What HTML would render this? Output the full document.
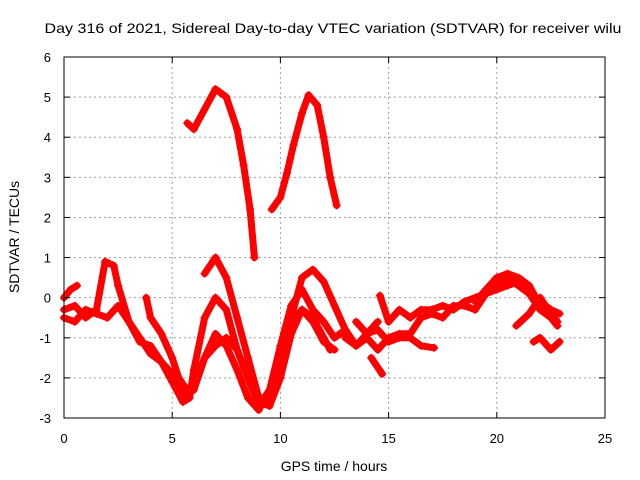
<!DOCTYPE html>
<html><head><meta charset="utf-8"><style>
html,body{margin:0;padding:0;background:#fff}
svg{display:block;font-family:"Liberation Sans",sans-serif}
</style></head><body>
<svg id="chart" width="640" height="480" viewBox="0 0 640 480" xmlns="http://www.w3.org/2000/svg">
<rect width="640" height="480" fill="#fff"/>
<text x="333" y="33" font-size="14" text-anchor="middle" textLength="577" lengthAdjust="spacingAndGlyphs">Day 316 of 2021, Sidereal Day-to-day VTEC variation (SDTVAR) for receiver wilu</text>
<g id="grid"></g>
<g id="series"></g>
<rect x="64" y="57" width="541" height="361" fill="none" stroke="#000" stroke-width="1"/>
<g id="ticks"></g>
<text x="334" y="471" font-size="14" text-anchor="middle">GPS time / hours</text>
<text transform="translate(19,237) rotate(-90)" font-size="14" text-anchor="middle">SDTVAR / TECUs</text>
</svg>
<script>
const xTicks=[0,5,10,15,20,25];
const yTicks=[-3,-2,-1,0,1,2,3,4,5,6];
const arcA=[[5.7,4.35],[6.0,4.2],[6.5,4.7],[7.0,5.2],[7.5,5.0],[8.0,4.2],[8.3,3.3],[8.6,2.2],[8.8,1.0]];
const arcB=[[9.6,2.2],[10.0,2.5],[10.3,3.1],[10.6,3.8],[11.0,4.6],[11.3,5.05],[11.7,4.8],[12.0,4.0],[12.3,3.0],[12.6,2.3]];
const s1=[[6.5,0.6],[7.0,1.0],[7.5,0.5],[8.0,-0.5],[8.5,-1.5],[9.0,-2.5],[9.5,-2.5],[10.0,-1.8],[10.5,-0.5],[11.0,0.5],[11.5,0.7],[12.0,0.4],[12.5,-0.2],[13.0,-0.8],[13.5,-1.2],[14.0,-0.9],[14.5,-0.6]];
const s2=[[0,-0.3],[0.5,-0.2],[1.0,-0.5],[1.5,-0.3],[1.9,0.9],[2.3,0.8],[2.5,0.3],[3.0,-0.6],[3.5,-1.0],[4.0,-1.4],[4.5,-1.6],[5.0,-1.9],[5.5,-2.4],[6.0,-2.3],[6.5,-1.5],[7.0,-0.9],[7.5,-1.2],[8.0,-1.8],[8.5,-2.5],[9.0,-2.8],[9.5,-2.3],[10.0,-1.2],[10.5,-0.2],[11.0,0.2],[11.5,-0.3],[12.0,-0.6],[12.5,-1.0],[13.0,-0.8]];
const s3=[[0,-0.5],[0.5,-0.6],[1.0,-0.3],[1.5,-0.4],[2.0,-0.5],[2.5,-0.2],[3.0,-0.6],[3.5,-1.1],[4.0,-1.2],[4.5,-1.6],[5.0,-2.1],[5.5,-2.6],[5.8,-2.5],[6.0,-1.8],[6.5,-0.5],[7.0,0.0],[7.5,-0.3],[8.0,-1.3],[8.5,-2.0],[9.0,-2.6],[9.5,-2.7],[10.0,-2.0],[10.5,-0.9],[11.0,-0.3],[11.5,-0.6],[12.0,-1.1],[12.5,-1.3]];
const s4=[[3.8,0.0],[4.0,-0.5],[4.5,-0.9],[5.0,-1.5],[5.3,-2.0],[5.8,-2.4],[6.2,-1.9],[6.5,-1.5],[7.0,-1.2],[7.5,-1.0],[8.0,-1.3],[8.5,-2.0],[9.0,-2.7],[9.5,-2.3],[10.0,-1.5],[10.5,-0.6],[11.0,-0.3],[11.5,-0.5],[12.0,-1.0],[12.3,-1.3]];
const s5=[[0,0.0],[0.3,0.2],[0.6,0.3]];
const s6=[[14.6,0.05],[15.0,-0.6],[15.5,-0.3],[16.0,-0.5],[16.5,-0.3],[17.0,-0.3],[17.5,-0.2],[18.0,-0.3],[18.5,-0.1],[19.0,0.0],[19.5,0.1],[20.0,0.3],[20.5,0.5],[21.0,0.3],[21.5,0.1],[22.0,-0.3],[22.5,-0.5],[22.8,-0.7]];
const s7=[[13.0,-1.0],[13.5,-1.2],[14.0,-1.0],[14.5,-1.3],[15.0,-1.0],[15.5,-0.9],[16.0,-0.9],[16.5,-0.5],[17.0,-0.4],[17.5,-0.5],[18.0,-0.2],[18.5,-0.2],[19.0,-0.3],[19.5,0.1],[20.0,0.2],[20.5,0.3],[21.0,0.4],[21.5,0.1],[22.0,-0.1],[22.5,-0.3],[22.9,-0.4]];
const s8=[[13.5,-0.6],[14.0,-0.9],[14.5,-0.8],[15.0,-1.1],[15.5,-1.0],[16.0,-1.0],[16.5,-1.2],[17.1,-1.25]];
const s9=[[20.9,-0.7],[21.5,-0.4],[22.0,0.0],[22.5,-0.4],[22.8,-0.6]];
const s10=[[21.7,-1.1],[22.0,-1.0],[22.5,-1.3],[22.9,-1.1]];
const s11=[[14.2,-1.5],[14.7,-1.9]];
const s12=[[19.0,-0.1],[19.5,0.2],[20.0,0.5],[20.5,0.6],[21.0,0.5],[21.5,0.3],[22.0,-0.2],[22.5,-0.4]];
const allSeries=[arcA,arcB,s1,s2,s3,s4,s5,s6,s7,s8,s9,s10,s11,s12];

const X=t=>64+t*(541/25);
const Y=v=>57+(6-v)*(361/9);
const NS="http://www.w3.org/2000/svg";
function mk(tag,attrs,parent){const e=document.createElementNS(NS,tag);for(const k in attrs)e.setAttribute(k,attrs[k]);parent.appendChild(e);return e;}
const grid=document.getElementById('grid'),ticks=document.getElementById('ticks'),ser=document.getElementById('series');
xTicks.forEach(t=>{
  const x=X(t);
  if(t>0&&t<25){const g=mk('line',{x1:x,y1:57,x2:x,y2:418,stroke:'#a0a0a0','stroke-dasharray':'2,3'},grid);
  
  }
  mk('line',{x1:x,y1:418,x2:x,y2:412,stroke:'#000'},ticks);
  mk('line',{x1:x,y1:57,x2:x,y2:63,stroke:'#000'},ticks);
  const l=mk('text',{x:x,y:443,'font-size':13,'text-anchor':'middle'},ticks);l.textContent=t;
  
  
});
yTicks.forEach(v=>{
  const y=Y(v);
  if(v>-3&&v<6){const g=mk('line',{x1:64,y1:y,x2:605,y2:y,stroke:'#a0a0a0','stroke-dasharray':'2,3'},grid);
  
  }
  mk('line',{x1:64,y1:y,x2:70,y2:y,stroke:'#000'},ticks);
  mk('line',{x1:605,y1:y,x2:599,y2:y,stroke:'#000'},ticks);
  const l=mk('text',{x:51,y:y+5,'font-size':13,'text-anchor':'end'},ticks);l.textContent=v;
  
  
});
allSeries.forEach((s,i)=>{
  const p=mk('polyline',{points:s.map(d=>X(d[0])+','+Y(d[1])).join(' '),fill:'none',stroke:'#ff0000','stroke-width':7,'stroke-linejoin':'round','stroke-linecap':'round'},ser);
  
  
  s.forEach(d=>{
    const m=mk('path',{d:`M${X(d[0])-4},${Y(d[1])}h8M${X(d[0])},${Y(d[1])-4}v8`,stroke:'#ff0000','stroke-width':1.5},ser);
    
    
  });
});
</script>
</body></html>
